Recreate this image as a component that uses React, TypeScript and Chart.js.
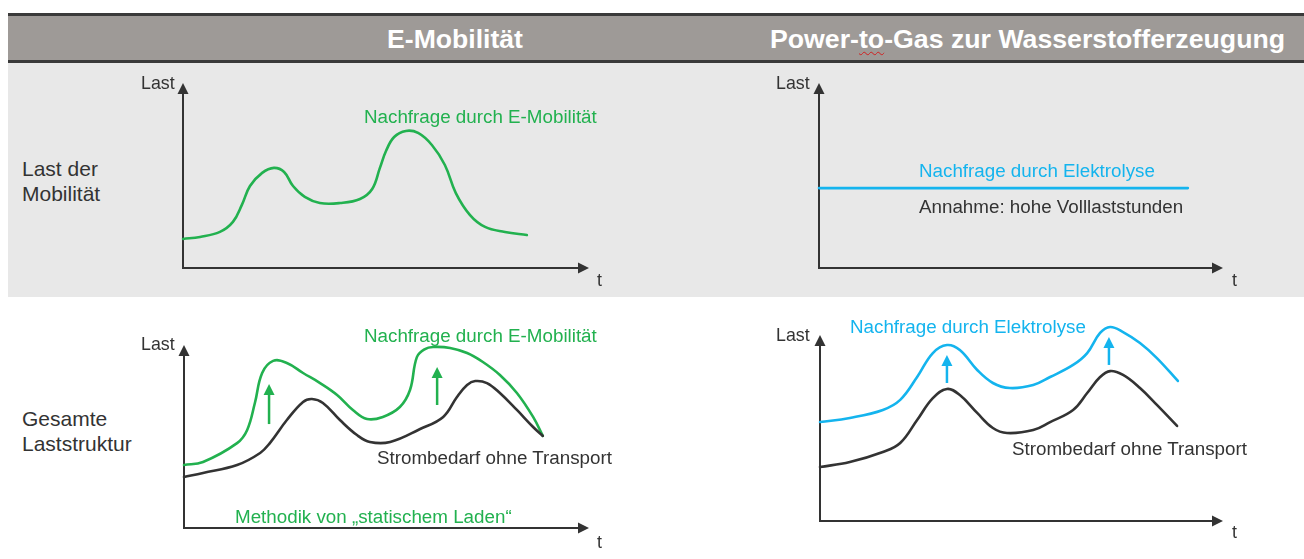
import React, { useEffect, useRef } from 'react';
import { Chart, registerables } from 'chart.js';

Chart.register(...registerables);

// ---------- data (abstract units: time 0..100, load 0..100) ----------
// Panel 1: Last der Mobilität – E-Mobilität
const mobilityT = [0, 4.2, 9.1, 12.3, 14.5, 16.5, 19.5, 22.4, 24.9, 27.1, 30.0, 33.7, 38.7, 43.6, 46.6, 48.5, 50.0, 52.0, 54.9, 57.9, 61.3, 64.5, 67.2, 70.7, 74.4, 79.3, 84.7];
const mobilityLoad = [15.7, 16.8, 19.5, 24.9, 34.1, 44.3, 51.4, 54.1, 51.9, 44.3, 38.4, 35.1, 35.1, 37.3, 42.7, 54.1, 63.2, 70.8, 74.1, 73.0, 66.5, 55.7, 40.5, 28.6, 22.2, 19.5, 17.8];

// Panel 2: Last der Mobilität – Power-to-Gas (constant electrolysis demand)
const electrolysisT = [0, 91.3];
const electrolysisLoad = [43.2, 43.2];

// Panel 3: Gesamte Laststruktur – E-Mobilität
const evTotalT = [0, 4.7, 13.1, 15.6, 17.5, 19.3, 22.0, 25.4, 29.4, 33.6, 37.8, 41.7, 45.2, 49.1, 53.3, 55.8, 57.5, 59.5, 61.5, 65.7, 69.9, 73.8, 78.0, 82.2, 86.2, 88.6];
const evTotalLoad = [34.4, 36.1, 46.4, 53.6, 68.3, 84.7, 91.3, 90.2, 84.7, 79.2, 72.7, 64.5, 59.6, 60.7, 66.1, 75.4, 93.4, 97.8, 98.9, 98.4, 95.6, 90.7, 83.6, 73.8, 60.7, 50.3];
const evBaseT = [0, 4.7, 13.1, 18.8, 21.2, 25.4, 29.4, 31.6, 34.3, 38.5, 42.7, 45.9, 50.9, 58.3, 64.0, 67.4, 69.9, 71.9, 74.8, 78.0, 82.2, 86.2, 88.6];
const evBaseLoad = [27.9, 30.1, 34.4, 41.0, 46.4, 59.0, 68.9, 70.5, 68.3, 59.0, 50.8, 47.0, 47.0, 54.1, 60.7, 71.6, 78.1, 80.3, 79.2, 73.8, 64.5, 55.2, 50.3];
const evArrowT = [21.0, 62.5];
const evArrowFrom = [56.8, 67.2];
const evArrowTo = [78.7, 88.0];

// Panel 4: Gesamte Laststruktur – Power-to-Gas
const h2TotalT = [0, 7.4, 15.6, 19.9, 24.1, 28.0, 31.5, 34.7, 39.0, 42.9, 47.1, 52.9, 57.1, 62.8, 66.3, 69.5, 72.0, 75.2, 79.4, 83.6, 88.8];
const h2TotalLoad = [53.2, 55.4, 59.7, 65.1, 77.4, 90.3, 94.6, 91.9, 81.2, 74.2, 71.5, 73.1, 77.4, 83.9, 90.3, 101.1, 104.3, 101.6, 95.7, 87.6, 75.3];
const h2BaseT = [0, 7.4, 15.6, 19.9, 24.1, 28.0, 31.5, 34.7, 39.0, 42.9, 46.4, 52.9, 57.1, 62.8, 66.3, 69.5, 72.0, 75.2, 79.4, 83.6, 88.6];
const h2BaseLoad = [29.0, 31.7, 37.1, 41.9, 54.3, 66.1, 71.0, 67.7, 58.1, 50.0, 47.3, 48.9, 53.2, 59.7, 68.8, 77.4, 80.6, 78.5, 71.5, 62.4, 51.1];
const h2ArrowT = [31.5, 71.7];
const h2ArrowFrom = [74.2, 83.9];
const h2ArrowTo = [89.2, 98.9];

// ---------- styles ----------
const GREEN = '#22b14f';
const CYAN = '#14b4ee';
const DARK = '#333333';
const FONT = "'Liberation Sans', Arial, Helvetica, sans-serif";
const PAD = 24;
const NOTE = 18.8;

const pts = (xs: number[], ys: number[]) => xs.map((x, i) => ({ x, y: ys[i] }));

type Area = { left: number; top: number; width: number; height: number };
type Arrows = { t: number[]; from: number[]; to: number[]; color: string } | null;

function makePlugin(arrows: Arrows) {
  return {
    id: 'axesAndArrows',
    beforeDatasetsDraw(chart: any) {
      const { ctx, chartArea: a } = chart;
      ctx.save();
      ctx.strokeStyle = DARK;
      ctx.fillStyle = DARK;
      ctx.lineWidth = 2;
      ctx.beginPath();
      ctx.moveTo(a.left, a.bottom);
      ctx.lineTo(a.left, a.top + 8);
      ctx.moveTo(a.left - 1, a.bottom);
      ctx.lineTo(a.right - 8, a.bottom);
      ctx.stroke();
      ctx.beginPath();
      ctx.moveTo(a.left, a.top);
      ctx.lineTo(a.left - 5.5, a.top + 11);
      ctx.lineTo(a.left + 5.5, a.top + 11);
      ctx.closePath();
      ctx.fill();
      ctx.beginPath();
      ctx.moveTo(a.right, a.bottom);
      ctx.lineTo(a.right - 11, a.bottom - 5.5);
      ctx.lineTo(a.right - 11, a.bottom + 5.5);
      ctx.closePath();
      ctx.fill();
      ctx.restore();
    },
    afterDatasetsDraw(chart: any) {
      if (!arrows) return;
      const { ctx } = chart;
      const xs = chart.scales.x;
      const ys = chart.scales.y;
      ctx.save();
      ctx.strokeStyle = arrows.color;
      ctx.fillStyle = arrows.color;
      ctx.lineWidth = 2.5;
      arrows.t.forEach((t, i) => {
        const px = xs.getPixelForValue(t);
        const y0 = ys.getPixelForValue(arrows.from[i]);
        const y1 = ys.getPixelForValue(arrows.to[i]);
        ctx.beginPath();
        ctx.moveTo(px, y0);
        ctx.lineTo(px, y1 + 9);
        ctx.stroke();
        ctx.beginPath();
        ctx.moveTo(px, y1);
        ctx.lineTo(px - 5.5, y1 + 11);
        ctx.lineTo(px + 5.5, y1 + 11);
        ctx.closePath();
        ctx.fill();
      });
      ctx.restore();
    },
  };
}

function Panel({ area, datasets, arrows }: { area: Area; datasets: any[]; arrows: Arrows }) {
  const ref = useRef<HTMLCanvasElement>(null);
  useEffect(() => {
    if (!ref.current) return;
    const chart = new Chart(ref.current, {
      type: 'line',
      data: { datasets },
      options: {
        animation: false,
        responsive: false,
        maintainAspectRatio: false,
        devicePixelRatio: 1,
        layout: { padding: PAD },
        events: [],
        plugins: { legend: { display: false }, tooltip: { enabled: false }, title: { display: false } },
        scales: {
          x: { type: 'linear', min: 0, max: 100, display: false },
          y: { type: 'linear', min: 0, max: 100, display: false },
        },
        elements: {
          point: { radius: 0 },
          line: { tension: 0.4, borderWidth: 2.6, borderJoinStyle: 'round', borderCapStyle: 'round' },
        },
      } as any,
      plugins: [makePlugin(arrows)],
    });
    return () => chart.destroy();
  }, []);
  const w = area.width + 2 * PAD;
  const h = area.height + 2 * PAD;
  return (
    <canvas
      ref={ref}
      width={w}
      height={h}
      style={{ position: 'absolute', left: area.left - PAD, top: area.top - PAD, width: w, height: h }}
    />
  );
}

const line = (xs: number[], ys: number[], color: string) => ({
  data: pts(xs, ys),
  borderColor: color,
  backgroundColor: color,
  fill: false,
  clip: false,
});

function Label({ x, y, text, color = DARK, size = NOTE, bold = false, center = false }: any) {
  return (
    <div
      style={{
        position: 'absolute',
        left: x,
        top: y,
        transform: center ? 'translate(-50%, -50%)' : 'translateY(-50%)',
        fontFamily: FONT,
        fontSize: size,
        fontWeight: bold ? 700 : 400,
        lineHeight: 1,
        color,
        whiteSpace: 'nowrap',
      }}
    >
      {text}
    </div>
  );
}

export default function App() {
  return (
    <div style={{ position: 'absolute', left: 0, top: 0, width: 1304, height: 559, overflow: 'hidden', background: '#ffffff' }}>
      {/* header band */}
      <div style={{ position: 'absolute', left: 8, top: 13, width: 1296, height: 3, background: '#3a3a3a' }} />
      <div style={{ position: 'absolute', left: 8, top: 16, width: 1296, height: 44, background: '#9e9a97' }} />
      <div style={{ position: 'absolute', left: 8, top: 60, width: 1296, height: 3, background: '#3a3a3a' }} />
      <div style={{ position: 'absolute', left: 8, top: 63, width: 1296, height: 234, background: '#e8e8e8' }} />

      <Label x={455} y={39} text="E-Mobilität" color="#ffffff" size={26.6} bold center />
      <Label
        x={770}
        y={39}
        color="#ffffff"
        size={26.7}
        bold
        text={
          <span>
            Power-
            <span style={{ textDecoration: 'underline wavy #d02020', textDecorationThickness: 1, textUnderlineOffset: 3, textDecorationSkipInk: 'none' }}>to</span>
            -Gas zur Wasserstofferzeugung
          </span>
        }
      />

      {/* row labels */}
      <Label x={22} y={168} text="Last der" size={21} />
      <Label x={22} y={193} text="Mobilität" size={21} />
      <Label x={22} y={418} text="Gesamte" size={21} />
      <Label x={22} y={443} text="Laststruktur" size={21} />

      {/* panel 1 */}
      <Panel
        area={{ left: 183, top: 83, width: 406, height: 185 }}
        datasets={[line(mobilityT, mobilityLoad, GREEN)]}
        arrows={null}
      />
      <Label x={141} y={84} text="Last" size={17.8} />
      <Label x={597} y={281} text="t" size={17.8} />
      <Label x={364} y={117} text="Nachfrage durch E-Mobilität" color={GREEN} />

      {/* panel 2 */}
      <Panel
        area={{ left: 819, top: 83, width: 404, height: 185 }}
        datasets={[line(electrolysisT, electrolysisLoad, CYAN)]}
        arrows={null}
      />
      <Label x={776} y={84} text="Last" size={17.8} />
      <Label x={1232} y={281} text="t" size={17.8} />
      <Label x={919} y={171} text="Nachfrage durch Elektrolyse" color={CYAN} />
      <Label x={919} y={207} text="Annahme: hohe Volllaststunden" />

      {/* panel 3 */}
      <Panel
        area={{ left: 184, top: 345, width: 405, height: 183 }}
        datasets={[line(evBaseT, evBaseLoad, DARK), line(evTotalT, evTotalLoad, GREEN)]}
        arrows={{ t: evArrowT, from: evArrowFrom, to: evArrowTo, color: GREEN }}
      />
      <Label x={141} y={345} text="Last" size={17.8} />
      <Label x={597} y={543} text="t" size={17.8} />
      <Label x={364} y={336} text="Nachfrage durch E-Mobilität" color={GREEN} />
      <Label x={377} y={458} text="Strombedarf ohne Transport" />
      <Label x={235} y={517} text="Methodik von „statischem Laden“" color={GREEN} />

      {/* panel 4 */}
      <Panel
        area={{ left: 820, top: 335, width: 403, height: 186 }}
        datasets={[line(h2BaseT, h2BaseLoad, DARK), line(h2TotalT, h2TotalLoad, CYAN)]}
        arrows={{ t: h2ArrowT, from: h2ArrowFrom, to: h2ArrowTo, color: CYAN }}
      />
      <Label x={776} y={336} text="Last" size={17.8} />
      <Label x={1232} y={533} text="t" size={17.8} />
      <Label x={850} y={327} text="Nachfrage durch Elektrolyse" color={CYAN} />
      <Label x={1012} y={449} text="Strombedarf ohne Transport" />
    </div>
  );
}
